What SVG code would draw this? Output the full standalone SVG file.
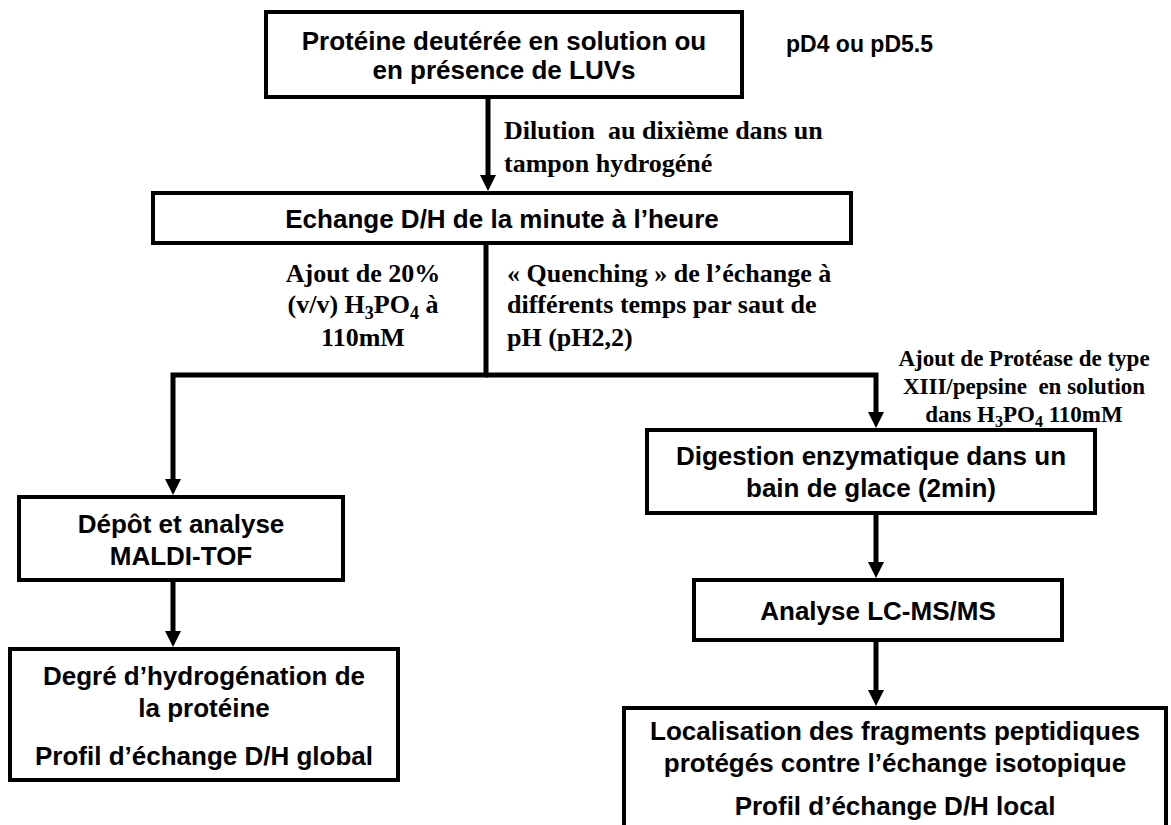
<svg xmlns="http://www.w3.org/2000/svg" width="1171" height="825" viewBox="0 0 1171 825">
<defs>
<marker id="ah" markerUnits="userSpaceOnUse" markerWidth="16" markerHeight="16" viewBox="0 0 16 16" refX="3" refY="8" orient="auto"><path d="M0,0 L16,8 L0,16 z" fill="#000"/></marker>
</defs>
<style>
.box{fill:#fff;stroke:#000;stroke-width:4}
.bt{font-family:"Liberation Sans",Arial,sans-serif;font-weight:bold;font-size:26px;text-anchor:middle;fill:#000}
.lb{font-family:"Liberation Serif","Times New Roman",serif;font-weight:bold;font-size:26px;fill:#000}
.sm{font-size:23px}
.mid{text-anchor:middle}
.cn{fill:none;stroke:#000;stroke-width:5;stroke-linejoin:miter}
</style>
<rect width="1171" height="825" fill="#fff"/>
<g id="connectors">
<path class="cn" d="M488,99 V178" marker-end="url(#ah)"/>
<path class="cn" d="M486,245 V375 H173 V482" marker-end="url(#ah)"/>
<path class="cn" d="M486,375 H876 V415" marker-end="url(#ah)"/>
<path class="cn" d="M173,582 V634" marker-end="url(#ah)"/>
<path class="cn" d="M876,515 V565" marker-end="url(#ah)"/>
<path class="cn" d="M876,642 V693" marker-end="url(#ah)"/>
</g>
<g id="n_top">
<rect class="box" x="266" y="12" width="476" height="85"/>
<text class="bt" x="504" y="50">Protéine deutérée en solution ou</text>
<text class="bt" x="504" y="79">en présence de LUVs</text>
</g>
<g id="l_pd">
<text class="bt" x="786" y="52" style="text-anchor:start;font-size:23px">pD4 ou pD5.5</text>
</g>
<g id="l_dilution">
<text class="lb" x="504" y="139">Dilution&#160; au dixième dans un</text>
<text class="lb" x="504" y="172">tampon hydrogéné</text>
</g>
<g id="n_echange">
<rect class="box" x="153" y="193" width="698" height="50"/>
<text class="bt" x="502" y="228">Echange D/H de la minute à l’heure</text>
</g>
<g id="l_ajout">
<text class="lb mid" x="363" y="282">Ajout de 20%</text>
<text class="lb mid" x="363" y="313">(v/v) H<tspan dy="6" font-size="18">3</tspan><tspan dy="-6">PO</tspan><tspan dy="6" font-size="18">4</tspan><tspan dy="-6"> à</tspan></text>
<text class="lb mid" x="363" y="346">110mM</text>
</g>
<g id="l_quench">
<text class="lb" x="507" y="282">« Quenching » de l’échange à</text>
<text class="lb" x="507" y="313">différents temps par saut de</text>
<text class="lb" x="507" y="346">pH (pH2,2)</text>
</g>
<g id="l_protease">
<text class="lb sm mid" x="1024" y="366">Ajout de Protéase de type</text>
<text class="lb sm mid" x="1024" y="394">XIII/pepsine&#160; en solution</text>
<text class="lb sm mid" x="1024" y="422">dans H<tspan dy="5" font-size="16">3</tspan><tspan dy="-5">PO</tspan><tspan dy="5" font-size="16">4</tspan><tspan dy="-5"> 110mM</tspan></text>
</g>
<g id="n_depot">
<rect class="box" x="19" y="497" width="324" height="83"/>
<text class="bt" x="181" y="533">Dépôt et analyse</text>
<text class="bt" x="181" y="565">MALDI-TOF</text>
</g>
<g id="n_degre">
<rect class="box" x="10" y="649" width="388" height="131"/>
<text class="bt" x="204" y="685">Degré d’hydrogénation de</text>
<text class="bt" x="204" y="717">la protéine</text>
<text class="bt" x="204" y="765">Profil d’échange D/H global</text>
</g>
<g id="n_digestion">
<rect class="box" x="647" y="430" width="448" height="83"/>
<text class="bt" x="871" y="465">Digestion enzymatique dans un</text>
<text class="bt" x="871" y="497">bain de glace (2min)</text>
</g>
<g id="n_analyse">
<rect class="box" x="694" y="580" width="368" height="60"/>
<text class="bt" x="878" y="620">Analyse LC-MS/MS</text>
</g>
<g id="n_local">
<rect class="box" x="624" y="708" width="542" height="140"/>
<text class="bt" x="895" y="740">Localisation des fragments peptidiques</text>
<text class="bt" x="895" y="772">protégés contre l’échange isotopique</text>
<text class="bt" x="895" y="815">Profil d’échange D/H local</text>
</g>
</svg>
